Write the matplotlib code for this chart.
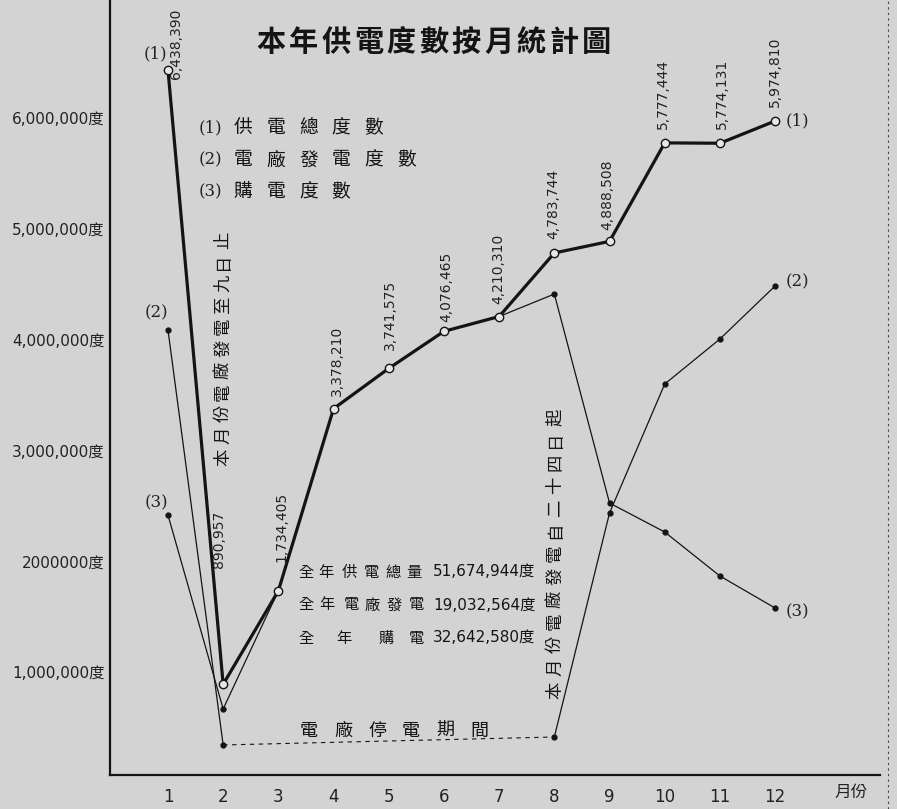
import matplotlib
matplotlib.use('Agg')
import matplotlib.pyplot as plt
from matplotlib.lines import Line2D
import numpy as np

# ---------------- data ----------------
months = list(range(1, 13))
month_labels = ['1', '2', '3', '4', '5', '6', '7', '8', '9', '10', '11', '12']
month_axis_label = '月份'

# (1) 供電總度數
total_supply = [6438390, 890957, 1734405, 3378210, 3741575, 4076465,
                4210310, 4783744, 4888508, 5777444, 5774131, 5974810]
total_labels = ['6,438,390', '890,957', '1,734,405', '3,378,210', '3,741,575',
                '4,076,465', '4,210,310', '4,783,744', '4,888,508', '5,777,444',
                '5,774,131', '5,974,810']
# (2) 電廠發電度數 (plant shut down months 3-7)
plant_generation = [4090000, 343000, np.nan, np.nan, np.nan, np.nan, np.nan,
                    415000, 2437000, 3601000, 4007000, 4486000]
# (3) 購電度數
purchased = [2419000, 668000, 1734405, 3378210, 3741575, 4076465,
             4210310, 4413000, 2527000, 2265000, 1868000, 1579000]

ytick_values = [1000000, 2000000, 3000000, 4000000, 5000000, 6000000]
ytick_labels = ['1,000,000度', '2000000度', '3,000,000度', '4,000,000度',
                '5,000,000度', '6,000,000度']

title = '本年供電度數按月統計圖'
legend_rows = [('(1)', '供電總度數'), ('(2)', '電廠發電度數'), ('(3)', '購電度數')]
annual_rows = [('全年供電總量', '51,674,944度'),
               ('全年電廠發電', '19,032,564度'),
               ('全年購電', '32,642,580度')]
note_feb = '本月份電廠發電至九日止'
note_aug = '本月份電廠發電自二十四日起'
shutdown_text = '電廠停電期間'

# ---------------- layout / style ----------------
W, H = 897, 809
BG = '#d3d3d3'
INK = '#141414'
CJK = ['Noto Sans CJK TC', 'DejaVu Sans']
MIX = ['DejaVu Sans', 'Noto Sans CJK TC']

fig = plt.figure(figsize=(W / 100, H / 100), dpi=100, facecolor=BG)
ax = fig.add_axes([110 / W, (H - 775) / H, (880 - 110) / W, 775 / H])
ax.set_facecolor(BG)
ax.set_xlim(-0.05, 13.9)
ax.set_ylim(72000, 7067000)

for s in ('top', 'right'):
    ax.spines[s].set_visible(False)
for s in ('left', 'bottom'):
    ax.spines[s].set_linewidth(1.6)
    ax.spines[s].set_color(INK)

ax.set_xticks(months)
ax.set_xticklabels(month_labels, fontsize=12, color='#222', family=MIX)
ax.set_yticks(ytick_values)
ax.set_yticklabels(ytick_labels, fontsize=11, color='#222', family=MIX)
ax.tick_params(axis='both', length=0)
ax.tick_params(axis='x', pad=9)
ax.tick_params(axis='y', pad=4)
ax.text(13.37, -0.023, month_axis_label, transform=ax.get_xaxis_transform(),
        ha='center', va='center', fontsize=12, family=CJK, color='#222')

# series (3) thin
ax.plot(months, purchased, color=INK, lw=0.9, marker='o', ms=3.5,
        mfc=INK, mec=INK, zorder=2)
# series (2) thin with dashed shutdown gap
pg = np.array(plant_generation, dtype=float)
m = np.array(months)
valid = ~np.isnan(pg)
ax.plot(m[:2], pg[:2], color=INK, lw=0.9, marker='o', ms=3.5, zorder=2)
idx = np.where(valid)[0]
gap_i = [i for i in range(len(idx) - 1) if idx[i + 1] - idx[i] > 1][0]
a, b = idx[gap_i], idx[gap_i + 1]
ax.plot([m[a], m[b]], [pg[a], pg[b]], color=INK, lw=0.8, ls=(0, (4, 4)), zorder=2)
ax.plot(m[b:], pg[b:], color=INK, lw=0.9, marker='o', ms=3.5, zorder=2)
# series (1) thick with open circles
ax.plot(months, total_supply, color=INK, lw=2.3, marker='o', ms=6,
        mfc='#e6e6e6', mec=INK, mew=1.0, zorder=3)

# value labels on series 1 (offsets in pixels)
label_offsets = [(8, -9), (-4, 116), (3, 29), (3, 13), (1, 18), (2, 9),
                 (-1, 13), (-1, 14), (-2, 11), (-2, 14), (2, 14), (0, 14)]
for mo, v, t, (dx, dy) in zip(months, total_supply, total_labels, label_offsets):
    ax.annotate(t, (mo, v), xytext=(dx, dy), textcoords='offset pixels',
                rotation=90, ha='center', va='bottom', fontsize=10,
                color='#222', family=MIX)

# series tags
tag_kw = dict(fontsize=12, family='DejaVu Serif', color='#222', va='center')
ax.annotate('(1)', (1, total_supply[0]), xytext=(-13, 16), textcoords='offset pixels', ha='center', **tag_kw)
ax.annotate('(2)', (1, plant_generation[0]), xytext=(-12, 17), textcoords='offset pixels', ha='center', **tag_kw)
ax.annotate('(3)', (1, purchased[0]), xytext=(-12, 12), textcoords='offset pixels', ha='center', **tag_kw)
ax.annotate('(1)', (12, total_supply[-1]), xytext=(10, 0), textcoords='offset pixels', ha='left', **tag_kw)
ax.annotate('(2)', (12, plant_generation[-1]), xytext=(10, 4), textcoords='offset pixels', ha='left', **tag_kw)
ax.annotate('(3)', (12, purchased[-1]), xytext=(10, -4), textcoords='offset pixels', ha='left', **tag_kw)


def fpos(x, y):
    return x / W, 1 - y / H


def spaced(chars, x0, y, pitch, size, vertical=False, **kw):
    for i, ch in enumerate(chars):
        if vertical:
            fig.text(*fpos(x0, y - i * pitch), ch, rotation=90, ha='center',
                     va='center', fontsize=size, family=CJK, color=INK, **kw)
        else:
            fig.text(*fpos(x0 + i * pitch, y), ch, ha='center', va='center',
                     fontsize=size, family=CJK, color=INK, **kw)


# title
spaced(title, 271, 42, 32.5, 21, fontweight='bold')

# legend block
for r, (tag, txt) in enumerate(legend_rows):
    y = 128 + r * 32
    fig.text(*fpos(210, y), tag, ha='center', va='center', fontsize=12,
             family='DejaVu Serif', color='#222')
    spaced(txt, 243, y, 32.7, 13.5)

# annual totals block
annual_x = [[306, 326, 349, 371, 393, 414],
            [306, 327, 351, 372, 394, 416],
            [306, 344, 386, 416]]
for r, ((lab, num), xs) in enumerate(zip(annual_rows, annual_x)):
    y = 572 + r * 33
    for ch, x in zip(lab, xs):
        fig.text(*fpos(x, y), ch, ha='center', va='center', fontsize=11,
                 family=CJK, color=INK)
    fig.text(*fpos(433, y), num, ha='left', va='center', fontsize=11,
             family=MIX, color=INK)

# notes
spaced(note_feb, 223, 457, 21.7, 12.5, vertical=True)
spaced(note_aug, 555, 690, 22.75, 12.5, vertical=True)
spaced(shutdown_text, 309, 731, 34, 13)

# right page edge dotted line
fig.add_artist(Line2D([888 / W, 888 / W], [0, 1], transform=fig.transFigure,
                      color='#444', lw=0.8, ls=(0, (2, 3))))

fig.savefig('out.png', dpi=100, facecolor=BG)
